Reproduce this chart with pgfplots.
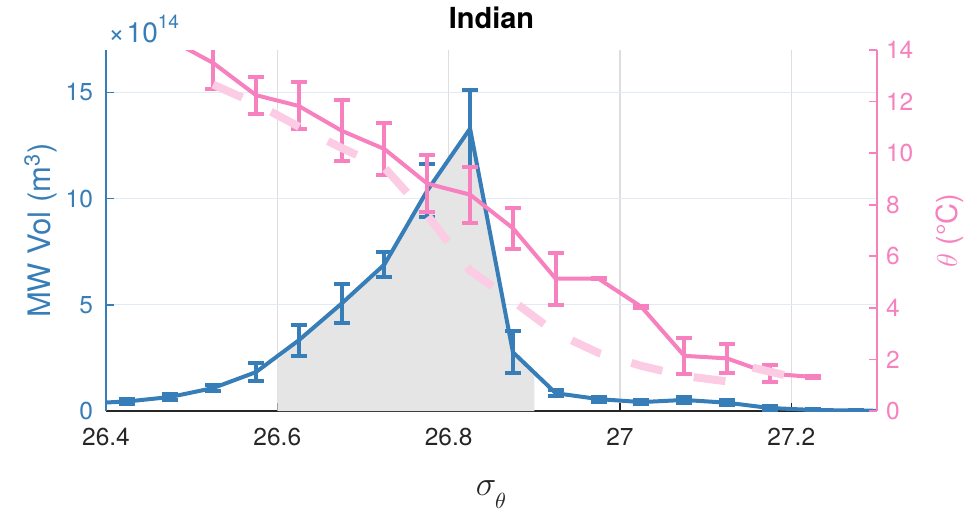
\documentclass[border=0pt]{standalone}
\usepackage{fontspec}
\setmainfont{TeX Gyre Heros}
\usepackage{pgfplots}
\pgfplotsset{compat=1.18}
\definecolor{cblue}{RGB}{55,126,184}
\definecolor{cpink}{RGB}{247,129,191}
\definecolor{lpink}{RGB}{252,204,228}
\definecolor{cfill}{RGB}{229,229,229}
\definecolor{axgray}{RGB}{38,38,38}
\definecolor{gridgray}{RGB}{222,222,222}
\definecolor{gridblue}{RGB}{226,234,243}

\pgfplotstableread{
x y e
26.375 0.35 0.10
26.425 0.45 0.10
26.475 0.66 0.12
26.525 1.08 0.15
26.575 1.83 0.42
26.625 3.33 0.73
26.675 5.06 0.90
26.725 6.90 0.60
26.775 10.38 1.24
26.825 13.30 1.80
26.875 2.77 1.00
26.925 0.84 0.15
26.975 0.56 0.12
27.025 0.42 0.10
27.075 0.52 0.12
27.125 0.39 0.12
27.175 0.14 0.10
27.225 0.05 0.06
27.275 0.02 0.04
27.325 0.00 0.00
}\voldata

% shaded region under the volume curve, 26.6 to 26.9
\pgfplotstableread{
x y
26.600 0.00
26.600 2.39
26.625 3.33
26.675 5.06
26.725 6.90
26.775 10.38
26.825 13.30
26.875 2.77
26.900 1.80
26.900 0.00
}\shadedata

\pgfplotstableread{
x y e
26.475 14.40 0.30
26.525 13.50 1.00
26.575 12.25 0.72
26.625 11.83 0.91
26.675 10.87 1.19
26.725 10.16 0.99
26.775 8.82 1.09
26.825 8.39 1.09
26.875 7.09 0.80
26.925 5.13 1.00
26.975 5.13 0.03
27.025 4.04 0.03
27.075 2.14 0.70
27.125 2.04 0.56
27.175 1.45 0.33
27.225 1.32 0.03
}\thetadata

\pgfplotstableread{
x y
26.525 12.66
26.575 11.92
26.625 11.03
26.675 10.20
26.725 9.44
26.775 7.60
26.825 5.45
26.875 4.27
26.925 3.03
26.975 2.25
27.025 1.75
27.075 1.36
27.125 1.15
27.150 1.72
27.200 1.33
}\climdata

\pgfplotsset{
  mybase/.style={
    scale only axis, width=385.5pt, height=180.5pt,
    at={(53pt,50pt)}, anchor=south west,
    xmin=26.4, xmax=27.3,
    tick label style={font=\fontsize{12.25}{14}\selectfont},
    /pgf/number format/assume math mode=true,
    major tick length=3.8pt,
    tick style={line width=0.8pt},
    axis line style={line width=0.8pt},
  }
}

\begin{document}
\begin{tikzpicture}
\path[use as bounding box] (0,0) rectangle (483pt,255.5pt);
\begin{axis}[mybase, name=ax1,
  ymin=0, ymax=17, ytick={0,5,10,15},
  axis y line*=left, axis x line*=bottom,
  xtick={26.4,26.6,26.8,27,27.2}, xticklabels={26.4,26.6,26.8,27,27.2},
  xmajorgrids, ymajorgrids,
  major x grid style={gridgray, line width=0.6pt},
  major y grid style={gridblue, line width=0.6pt},
  x axis line style={axgray}, y axis line style={cblue},
  xtick style={axgray}, ytick style={cblue},
  xticklabel style={axgray, yshift=-5pt},
  yticklabel style={cblue, xshift=-3pt},
  ylabel={MW Vol (m\textsuperscript{3})},
  ylabel style={cblue, font=\fontsize{15.5}{18}\selectfont, at={(axis description cs:-0.0726,0.5)}, anchor=base},
  xlabel={$\sigma_{\raisebox{-4pt}{$\scriptstyle\theta$}}$},
  xlabel style={axgray, font=\fontsize{16}{18}\selectfont, at={(axis description cs:0.5,-0.2327)}, anchor=base},
  title={Indian},
  title style={font=\bfseries\fontsize{14.5}{17}\selectfont, at={(axis description cs:0.5,1)}, anchor=base, yshift=5pt},
]
\addplot[fill=cfill, draw=none, forget plot] table[x=x, y=y] {\shadedata} -- cycle;
\addplot[cblue, line width=2pt, mark=none,
  error bars/.cd, y dir=both, y explicit, error mark=|,
  error bar style={line width=2pt, cblue},
  error mark options={cblue, line width=2pt, mark size=4pt}]
  table[x=x, y=y, y error=e] {\voldata};
\end{axis}
\node[anchor=base west, text=cblue, inner sep=0pt] at ([xshift=1pt, yshift=4pt]ax1.north west) {\fontsize{14}{16}\selectfont ×\kern1pt 10\raisebox{7pt}{\fontsize{9.5}{11}\selectfont 14}};
\begin{axis}[mybase,
  ymin=0, ymax=14, ytick={0,2,4,6,8,10,12,14},
  axis y line*=right, axis x line=none,
  y axis line style={cpink}, ytick style={cpink},
  yticklabel style={cpink, xshift=1pt},
  ylabel={$\theta$ (°C)},
  ylabel style={cpink, font=\fontsize{14.5}{17}\selectfont, at={(axis description cs:1.1038,0.5)}, anchor=base},
]
\addplot[cpink, line width=2pt, mark=none,
  error bars/.cd, y dir=both, y explicit, error mark=|,
  error bar style={line width=2pt, cpink},
  error mark options={cpink, line width=2pt, mark size=4pt}]
  table[x=x, y=y, y error=e] {\thetadata};
\addplot[lpink, line width=4pt, mark=none, dash pattern=on 16pt off 16pt] table[x=x, y=y] {\climdata};
\end{axis}
\end{tikzpicture}
\end{document}
